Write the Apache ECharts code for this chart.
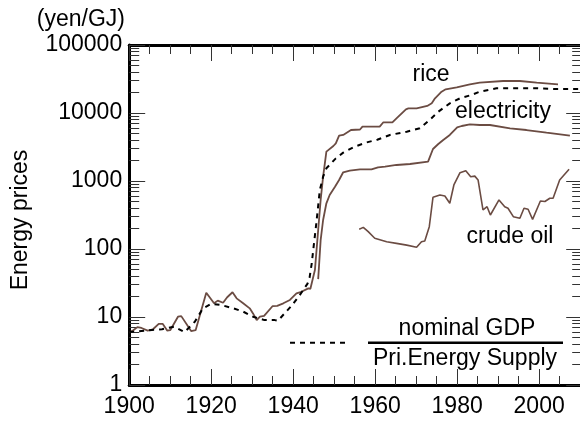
<!DOCTYPE html>
<html><head><meta charset="utf-8">
<script src="https://cdn.jsdelivr.net/npm/echarts@6/dist/echarts.min.js"></script>
<style>html,body{margin:0;padding:0;background:#fff}#c{width:580px;height:421px}</style>
</head><body><div id="c"></div>
<script>
// ---- data ----
const riceYears  = [1900,1901,1902,1903,1904.5,1905.8,1907.2,1908.2,1909.3,1910,1911.9,1912.7,1915.1,1916.2,1918.8,1920.7,1921.6,1922.9,1923.9,1925.2,1926.2,1927.8,1929.4,1930.2,1931.1,1931.9,1932.9,1935,1936.1,1937.6,1939.2,1940.8,1942,1943.7,1944.2,1945.3,1946.1,1946.7,1947.3,1948.1,1949.8,1950.4,1951.2,1952.2,1954.1,1956.3,1956.9,1961.1,1962,1964.2,1965.2,1967.5,1968.1,1970.1,1972.7,1973.8,1974.6,1976.2,1977.2,1979.9,1983.1,1985.5,1991.2,1995.3,1999.4,2004.6];
const riceValues = [5.9,6.4,7.1,6.9,6.3,6.6,7.9,7.9,6.3,6.4,10.1,10.3,6.2,6.4,22.8,15.9,17.4,16.2,19.5,23.1,18.8,15.9,13.4,11.3,9.0,10.1,10.4,14.5,14.6,15.9,17.8,22.3,23.5,26.4,26,49,190,526,1157,2700,3270,3580,4640,4760,5620,5720,6290,6290,7300,7300,8360,11330,11700,11700,12680,13870,16450,20570,22320,23880,26300,28000,29570,29570,27900,26400];

const gdpYears  = [1900,1905,1908,1911,1913.5,1916,1918,1920,1922.5,1925.4,1927.8,1930.2,1933,1935.5,1936.3,1937.6,1939.6,1941.6,1943.5,1944,1944.5,1945,1945.5,1946,1946.5,1947.3,1948.1,1950.4,1952.2,1955,1957.7,1960.5,1963.6,1967.7,1970.9,1973.3,1975.4,1978.2,1980.7,1983.5,1985.5,1989.6,1993.7,1999.4,2004.2,2010];
const gdpValues = [6.0,6.4,6.6,7.2,6.0,8.5,13.4,15.6,15,13.4,12,10.1,9.0,9.0,8.8,10.8,14.6,21,31,38,60,110,200,380,738,1157,1537,2155,2610,3200,3660,4050,4750,5310,5960,7890,10450,13870,16450,18400,20570,23070,23070,23070,22540,22540];

const elecYears  = [1946.1,1946.7,1947.3,1948.1,1948.9,1950.2,1951.2,1952.2,1953.8,1956.3,1959.1,1960.7,1962.4,1965.2,1968.5,1972.9,1974.1,1975.4,1976.6,1978.2,1980,1981.1,1983.1,1985.5,1988,1992.9,1996.9,2001.8,2007.5];
const elecValues = [36,135,267,470,622,824,1035,1343,1417,1486,1486,1590,1625,1720,1778,1923,2955,3500,4010,4750,6160,6440,6800,6660,6660,5960,5620,5130,4640];

const oilYears  = [1956.1,1957.1,1958.3,1959.9,1962.8,1965.2,1967.7,1970.1,1971.3,1972.1,1973.2,1974.1,1975.8,1977,1978.2,1979.2,1980.7,1982.1,1983.3,1984.3,1985.1,1986.3,1987.3,1988.1,1990.2,1991.6,1992.4,1993.7,1995.3,1996.3,1997.3,1998.4,2000.3,2001.4,2002.6,2003.4,2005,2007.3];
const oilValues = [195,208,180,144,128,121,114,106,128,131,213,576,622,601,470,874,1325,1417,1157,1180,1035,375,419,316,526,419,397,299,283,397,384,273,508,500,557,557,1035,1486];

const xTickLabels = [1900,1920,1940,1960,1980,2000];
const xMinorTicks = [1905,1910,1915,1925,1930,1935,1945,1950,1955,1965,1970,1975,1985,1990,1995,2005,2010];
const yTickValues = [1,10,100,1000,10000,100000];
const yMinorTicks = [];
[1,10,100,1000,10000].forEach(d => { for (let k = 2; k <= 9; k++) yMinorTicks.push(d * k); });

// ---- chart ----
const FONT = '"Liberation Sans", Arial, sans-serif';
const BROWN = '#6b4c43';
const zip = (xs, ys) => xs.map((x, i) => [x, ys[i]]);

const X_MIN = 1900, X_MAX = 2010.5;
function xAx(pos, ticks, len, withLine, withLabel) {
  return {
    type: 'value', position: pos, min: X_MIN, max: X_MAX,
    axisLine: { show: withLine, onZero: false, lineStyle: { color: '#000', width: 3 } },
    axisTick: { show: true, inside: true, length: len, customValues: ticks, lineStyle: { color: '#333', width: 1 } },
    axisLabel: withLabel ? { show: true, customValues: ticks, margin: 10, color: '#000', fontSize: 23, fontFamily: FONT, formatter: v => String(v) } : { show: false },
    splitLine: { show: false }
  };
}
function yAx(pos, ticks, len, withLine, withLabel) {
  return {
    type: 'log', logBase: 10, position: pos, min: 1, max: 100000,
    axisLine: { show: withLine, onZero: false, lineStyle: { color: '#000', width: 3 } },
    axisTick: { show: true, inside: true, length: len, customValues: ticks, lineStyle: { color: '#333', width: 1 } },
    axisLabel: withLabel ? { show: true, customValues: ticks, margin: 7, color: '#000', fontSize: 23, fontFamily: FONT, formatter: v => String(Math.round(v)) } : { show: false },
    splitLine: { show: false }, minorTick: { show: false }
  };
}
function txt(text, x, y, align, rot) {
  return { type: 'text', x: x, y: y, rotation: rot || 0, z: 100,
    style: { text: text, x: 0, y: 0, fill: '#000', font: '23px ' + FONT, textAlign: align || 'center', textVerticalAlign: 'middle', verticalAlign: 'middle' } };
}

const chart = echarts.init(document.getElementById('c'), null, { renderer: 'canvas' });
chart.setOption({
  animation: false,
  backgroundColor: '#fff',
  grid: { left: 129.2, top: 45, width: 453, height: 340, outerBoundsMode: 'none', containLabel: false },
  xAxis: [
    xAx('bottom', xTickLabels, 16, true, true),
    xAx('bottom', xMinorTicks, 9, false, false),
    xAx('top', xTickLabels, 16, true, false),
    xAx('top', xMinorTicks, 9, false, false)
  ],
  yAxis: [
    yAx('left', yTickValues, 16, true, true),
    yAx('left', yMinorTicks, 10, false, false),
    yAx('right', yTickValues, 16, true, false),
    yAx('right', yMinorTicks, 10, false, false)
  ],
  series: [
    { name: 'rice', type: 'line', data: zip(riceYears, riceValues), symbol: 'none', lineStyle: { color: BROWN, width: 1.8 }, z: 3 },
    { name: 'electricity', type: 'line', data: zip(elecYears, elecValues), symbol: 'none', lineStyle: { color: BROWN, width: 1.8 }, z: 3 },
    { name: 'crude oil', type: 'line', data: zip(oilYears, oilValues), symbol: 'none', lineStyle: { color: BROWN, width: 1.6 }, z: 3 },
    { name: 'nominal GDP / Pri.Energy Supply', type: 'line', data: zip(gdpYears, gdpValues), symbol: 'none', lineStyle: { color: '#000', width: 2, type: [5, 5] }, z: 4 }
  ],
  graphic: [
    txt('(yen/GJ)', 125, 20, 'right'),
    txt('Energy prices', 21, 220, 'center', Math.PI / 2),
    txt('rice', 431, 75),
    txt('electricity', 503, 112),
    txt('crude oil', 510, 237),
    txt('nominal GDP', 467, 329),
    txt('Pri.Energy Supply', 465, 358.5),
    { type: 'line', z: 100, shape: { x1: 290, y1: 342.7, x2: 348, y2: 342.7 }, style: { stroke: '#000', lineWidth: 2, lineDash: [5, 5] } },
    { type: 'line', z: 100, shape: { x1: 368, y1: 342.7, x2: 563, y2: 342.7 }, style: { stroke: '#000', lineWidth: 2.5 } }
  ]
});
</script></body></html>
